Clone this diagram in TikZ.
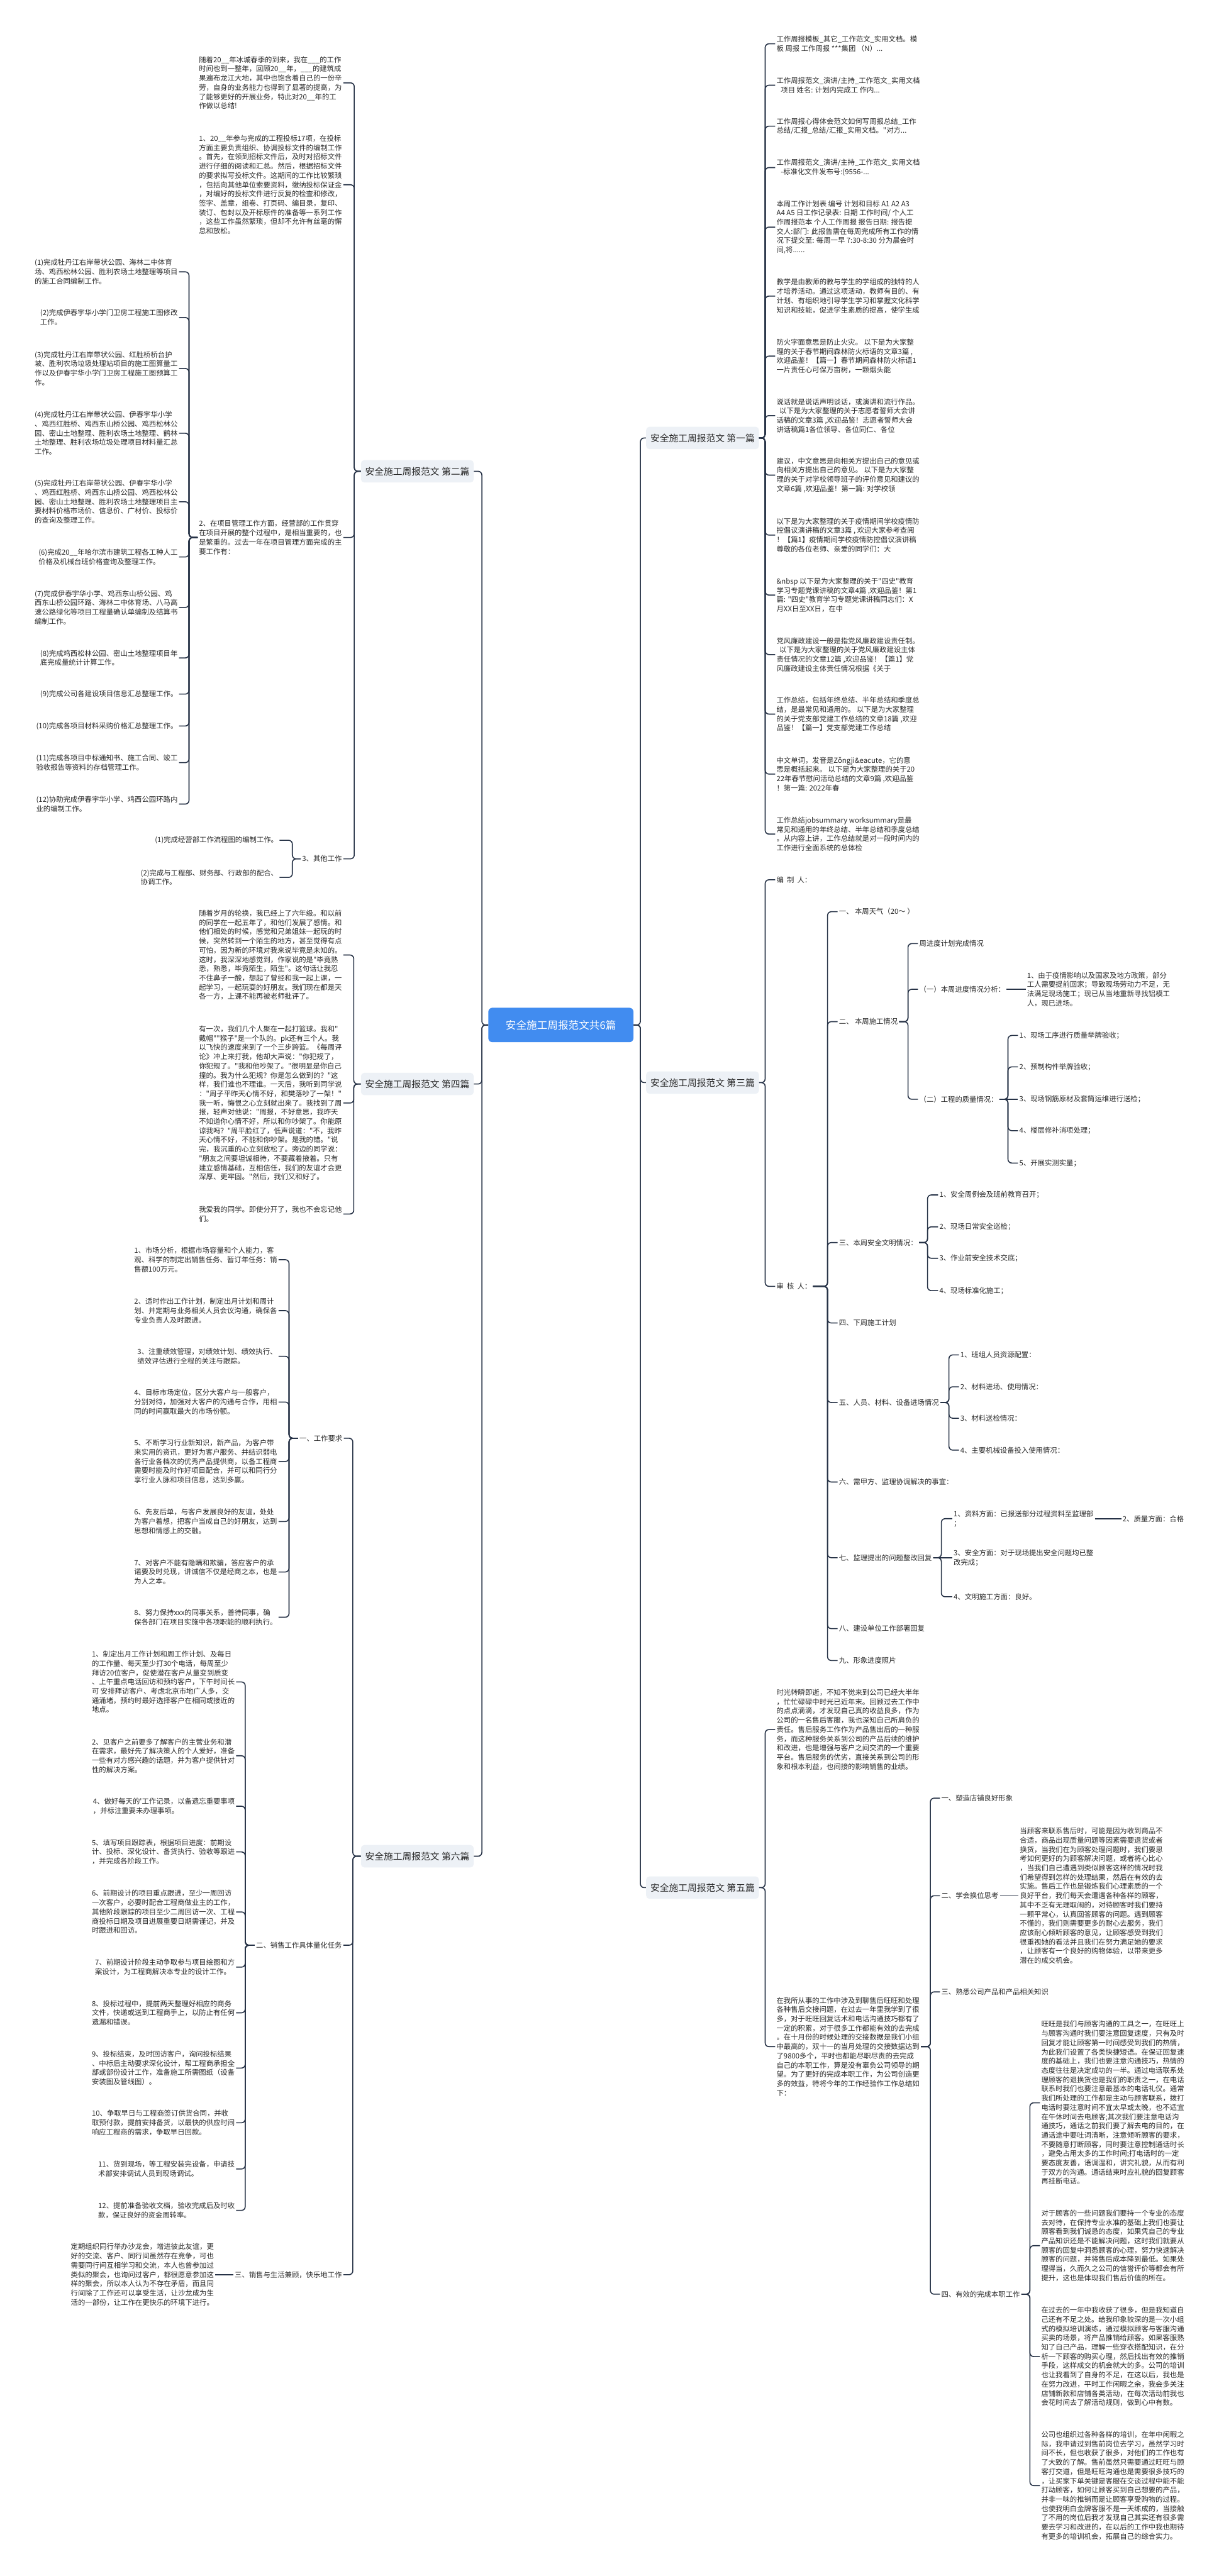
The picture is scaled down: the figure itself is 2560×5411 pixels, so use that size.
\documentclass[tikz,border=0pt]{standalone}
\usepackage{fontspec}
\setmainfont{Noto Sans CJK SC}[Ligatures=TeXOff]
\usepackage{tikz}

\definecolor{linec}{RGB}{38,50,70}
\definecolor{boxbg}{RGB}{237,241,246}
\definecolor{rootbg}{RGB}{65,140,240}
\definecolor{txt}{RGB}{40,40,40}

\begin{document}
\begin{tikzpicture}[x=0.02cm,y=-0.02cm,
  leaf/.style={inner xsep=1.5pt,inner ysep=1pt,align=left,text=txt,font=\fontsize{8.54}{11.06}\selectfont},
  pian/.style={fill=boxbg,rounded corners=4pt,minimum width=4.74cm,minimum height=0.94cm,text=txt,font=\fontsize{11.1}{13}\selectfont},
  zhuti/.style={fill=rootbg,rounded corners=5pt,minimum width=6.1cm,minimum height=1.45cm,text=white,font=\fontsize{12.5}{15}\selectfont},
  link/.style={draw=linec,line width=1.2pt,rounded corners=4.5pt}]

\fill[white] (0,0) rectangle (2560,5411);
\useasboundingbox (0,0) rectangle (2560,5411);

% centre and the six parts
\node[zhuti] (zt) at (1178,2153) {安全施工周报范文共6篇};
\node[pian] (p2) at (876.5,990) {安全施工周报范文 第二篇};
\node[pian] (p4) at (876.5,2277) {安全施工周报范文 第四篇};
\node[pian] (p6) at (876.5,3899) {安全施工周报范文 第六篇};
\node[pian] (p1) at (1475.5,920) {安全施工周报范文 第一篇};
\node[pian] (p3) at (1475.5,2274) {安全施工周报范文 第三篇};
\node[pian] (p5) at (1475.5,3965) {安全施工周报范文 第五篇};

\coordinate (jl) at (1012,2153);
\coordinate (jr) at (1345,2153);
\draw[link] (zt.west) -- (jl) |- (p2.east);
\draw[link] (zt.west) -- (jl) |- (p4.east);
\draw[link] (zt.west) -- (jl) |- (p6.east);
\draw[link] (zt.east) -- (jr) |- (p1.west);
\draw[link] (zt.east) -- (jr) |- (p3.west);
\draw[link] (zt.east) -- (jr) |- (p5.west);

% 第二篇
\node[leaf,anchor=east] (a1) at (721,174) {随着20\_\_年冰城春季的到来，我在\_\_\_的工作\\时间也到一整年，回顾20\_\_年，\_\_\_的建筑成\\果遍布龙江大地，其中也饱含着自己的一份辛\\劳，自身的业务能力也得到了显著的提高，为\\了能够更好的开展业务，特此对20\_\_年的工\\作做以总结!};
\node[leaf,anchor=east] (a2) at (721,388) {1、20\_\_年参与完成的工程投标17项，在投标\\方面主要负责组织、协调投标文件的编制工作\\。首先，在领到招标文件后，及时对招标文件\\进行仔细的阅读和汇总。然后，根据招标文件\\的要求拟写投标文件。这期间的工作比较繁琐\\，包括向其他单位索要资料，缴纳投标保证金\\，对编好的投标文件进行反复的检查和修改，\\签字、盖章，组卷、打页码、编目录，复印、\\装订、包封以及开标原件的准备等一系列工作\\，这些工作虽然繁琐，但却不允许有丝毫的懈\\怠和放松。};
\node[leaf,anchor=east] (a3) at (721,1129) {2、在项目管理工作方面，经营部的工作贯穿\\在项目开展的整个过程中，是相当重要的，也\\是繁重的。过去一年在项目管理方面完成的主\\要工作有：};
\node[leaf,anchor=east] (a4) at (721,1804) {3、其他工作};
\coordinate (j2) at (744,990);
\draw[link] (p2.west) -- (j2) |- (a1.east);
\draw[link] (p2.west) -- (j2) |- (a2.east);
\draw[link] (p2.west) -- (j2) |- (a3.east);
\draw[link] (p2.west) -- (j2) |- (a4.east);

\node[leaf,anchor=east] (b1) at (376,571) {(1)完成牡丹江右岸带状公园、海林二中体育\\场、鸡西松林公园、胜利农场土地整理等项目\\的施工合同编制工作。};
\node[leaf,anchor=east] (b2) at (376,667) {(2)完成伊春宇华小学门卫房工程施工图修改\\工作。};
\node[leaf,anchor=east] (b3) at (376,774) {(3)完成牡丹江右岸带状公园、红胜桥桥台护\\坡、胜利农场垃圾处理站项目的施工图算量工\\作以及伊春宇华小学门卫房工程施工图预算工\\作。};
\node[leaf,anchor=east] (b4) at (376,910) {(4)完成牡丹江右岸带状公园、伊春宇华小学\\、鸡西红胜桥、鸡西东山桥公园、鸡西松林公\\园、密山土地整理、胜利农场土地整理、鹤林\\土地整理、胜利农场垃圾处理项目材料量汇总\\工作。};
\node[leaf,anchor=east] (b5) at (376,1054) {(5)完成牡丹江右岸带状公园、伊春宇华小学\\、鸡西红胜桥、鸡西东山桥公园、鸡西松林公\\园、密山土地整理、胜利农场土地整理项目主\\要材料价格市场价、信息价、广材价、投标价\\的查询及整理工作。};
\node[leaf,anchor=east] (b6) at (376,1170) {(6)完成20\_\_年哈尔滨市建筑工程各工种人工\\价格及机械台班价格查询及整理工作。};
\node[leaf,anchor=east] (b7) at (376,1276) {(7)完成伊春宇华小学、鸡西东山桥公园、鸡\\西东山桥公园环路、海林二中体育场、八马高\\速公路绿化等项目工程量确认单编制及结算书\\编制工作。};
\node[leaf,anchor=east] (b8) at (376,1382) {(8)完成鸡西松林公园、密山土地整理项目年\\底完成量统计计算工作。};
\node[leaf,anchor=east] (b9) at (376,1458) {(9)完成公司各建设项目信息汇总整理工作。};
\node[leaf,anchor=east] (b10) at (376,1525) {(10)完成各项目材料采购价格汇总整理工作。};
\node[leaf,anchor=east] (b11) at (376,1602) {(11)完成各项目中标通知书、施工合同、竣工\\验收报告等资料的存档管理工作。};
\node[leaf,anchor=east] (b12) at (376,1689) {(12)协助完成伊春宇华小学、鸡西公园环路内\\业的编制工作。};
\coordinate (j2c) at (397,1129);
\draw[link] (a3.west) -- (j2c) |- (b1.east);
\draw[link] (a3.west) -- (j2c) |- (b2.east);
\draw[link] (a3.west) -- (j2c) |- (b3.east);
\draw[link] (a3.west) -- (j2c) |- (b4.east);
\draw[link] (a3.west) -- (j2c) |- (b5.east);
\draw[link] (a3.west) -- (j2c) |- (b6.east);
\draw[link] (a3.west) -- (j2c) |- (b7.east);
\draw[link] (a3.west) -- (j2c) |- (b8.east);
\draw[link] (a3.west) -- (j2c) |- (b9.east);
\draw[link] (a3.west) -- (j2c) |- (b10.east);
\draw[link] (a3.west) -- (j2c) |- (b11.east);
\draw[link] (a3.west) -- (j2c) |- (b12.east);

\node[leaf,anchor=east] (c1) at (587,1765) {(1)完成经营部工作流程图的编制工作。};
\node[leaf,anchor=east] (c2) at (587,1843) {(2)完成与工程部、财务部、行政部的配合、\\协调工作。};
\coordinate (j2d) at (614,1804);
\draw[link] (a4.west) -- (j2d) |- (c1.east);
\draw[link] (a4.west) -- (j2d) |- (c2.east);

% 第四篇
\node[leaf,anchor=east] (d1) at (721,2006) {随着岁月的轮换，我已经上了六年级。和以前\\的同学在一起五年了，和他们发展了感情。和\\他们相处的时候，感觉和兄弟姐妹一起玩的时\\候，突然转到一个陌生的地方，甚至觉得有点\\可怕，因为新的环境对我来说毕竟是未知的。\\这时，我深深地感觉到，作家说的是"毕竟熟\\悉，熟悉，毕竟陌生，陌生"。这句话让我忍\\不住鼻子一酸，想起了曾经和我一起上课，一\\起学习，一起玩耍的好朋友。我们现在都是天\\各一方，上课不能再被老师批评了。};
\node[leaf,anchor=east] (d2) at (721,2317) {有一次，我们几个人聚在一起打篮球。我和"\\戴帽""猴子"是一个队的。pk还有三个人。我\\以飞快的速度来到了一个三步跨篮。《每周评\\论》冲上来打我，他却大声说："你犯规了，\\你犯规了。"我和他吵架了。"很明显是你自己\\撞的。我为什么犯规？你是怎么做到的？"这\\样，我们谁也不理谁。一天后，我听到同学说\\："周子平昨天心情不好，和樊落吵了一架！"\\我一听，悔恨之心立刻就出来了。我找到了周\\报，轻声对他说："周报，不好意思，我昨天\\不知道你心情不好，所以和你吵架了。你能原\\谅我吗？"周平脸红了，低声说道："不，我昨\\天心情不好，不能和你吵架。是我的错。"说\\完，我沉重的心立刻放松了。旁边的同学说：\\"朋友之间要坦诚相待，不要藏着掖着。只有\\建立感情基础，互相信任，我们的友谊才会更\\深厚、更牢固。"然后，我们又和好了。};
\node[leaf,anchor=east] (d3) at (721,2550) {我爱我的同学。即使分开了，我也不会忘记他\\们。};
\coordinate (j4) at (743,2277);
\draw[link] (p4.west) -- (j4) |- (d1.east);
\draw[link] (p4.west) -- (j4) |- (d2.east);
\draw[link] (p4.west) -- (j4) |- (d3.east);

% 第六篇
\node[leaf,anchor=east] (e1) at (722,3021) {一、工作要求};
\node[leaf,anchor=east] (e2) at (721,4086) {二、销售工作具体量化任务};
\node[leaf,anchor=east] (e3) at (721,4778) {三、销售与生活兼顾，快乐地工作};
\coordinate (j6) at (741,3899);
\draw[link] (p6.west) -- (j6) |- (e1.east);
\draw[link] (p6.west) -- (j6) |- (e2.east);
\draw[link] (p6.west) -- (j6) |- (e3.east);

\node[leaf,anchor=east] (f1) at (585,2646) {1、市场分析，根据市场容量和个人能力，客\\观、科学的制定出销售任务、暂订年任务：销\\售额100万元。};
\node[leaf,anchor=east] (f2) at (585,2753) {2、适时作出工作计划，制定出月计划和周计\\划、并定期与业务相关人员会议沟通，确保各\\专业负责人及时跟进。};
\node[leaf,anchor=east] (f3) at (585,2849) {3、注重绩效管理，对绩效计划、绩效执行、\\绩效评估进行全程的关注与跟踪。};
\node[leaf,anchor=east] (f4) at (585,2945) {4、目标市场定位，区分大客户与一般客户，\\分别对待，加强对大客户的沟通与合作，用相\\同的时间赢取最大的市场份额。};
\node[leaf,anchor=east] (f5) at (585,3070) {5、不断学习行业新知识，新产品，为客户带\\来实用的资讯，更好为客户服务、并结识弱电\\各行业各档次的优秀产品提供商，以备工程商\\需要时能及时作好项目配合，并可以和同行分\\享行业人脉和项目信息，达到多赢。};
\node[leaf,anchor=east] (f6) at (585,3196) {6、先友后单，与客户发展良好的友谊，处处\\为客户着想，把客户当成自己的好朋友，达到\\思想和情感上的交融。};
\node[leaf,anchor=east] (f7) at (585,3302) {7、对客户不能有隐瞒和欺骗，答应客户的承\\诺要及时兑现，讲诚信不仅是经商之本，也是\\为人之本。};
\node[leaf,anchor=east] (f8) at (585,3397) {8、努力保持xxx的同事关系，善待同事，确\\保各部门在项目实施中各项职能的顺利执行。};
\coordinate (j6a) at (607,3021);
\draw[link] (e1.west) -- (j6a) |- (f1.east);
\draw[link] (e1.west) -- (j6a) |- (f2.east);
\draw[link] (e1.west) -- (j6a) |- (f3.east);
\draw[link] (e1.west) -- (j6a) |- (f4.east);
\draw[link] (e1.west) -- (j6a) |- (f5.east);
\draw[link] (e1.west) -- (j6a) |- (f6.east);
\draw[link] (e1.west) -- (j6a) |- (f7.east);
\draw[link] (e1.west) -- (j6a) |- (f8.east);

\node[leaf,anchor=east] (g1) at (496,3533) {1、制定出月工作计划和周工作计划、及每日\\的工作量、每天至少打30个电话，每周至少\\拜访20位客户，促使潜在客户从量变到质变\\、上午重点电话回访和预约客户，下午时间长\\可 安排拜访客户、考虑北京市地广人多，交\\通涌堵，预约时最好选择客户在相同或接近的\\地点。};
\node[leaf,anchor=east] (g2) at (496,3688) {2、见客户之前要多了解客户的主营业务和潜\\在需求，最好先了解决策人的个人爱好，准备\\一些有对方感兴趣的话题，并为客户提供针对\\性的解决方案。};
\node[leaf,anchor=east] (g3) at (496,3794) {4、做好每天的'工作记录，以备遗忘重要事项\\，并标注重要未办理事项。};
\node[leaf,anchor=east] (g4) at (496,3890) {5、填写项目跟踪表，根据项目进度：前期设\\计、投标、深化设计、备货执行、验收等跟进\\，并完成各阶段工作。};
\node[leaf,anchor=east] (g5) at (496,4016) {6、前期设计的项目重点跟进，至少一周回访\\一次客户，必要时配合工程商做业主的工作，\\其他阶段跟踪的项目至少二周回访一次、工程\\商投标日期及项目进展重要日期需谨记，并及\\时跟进和回访。};
\node[leaf,anchor=east] (g6) at (496,4132) {7、前期设计阶段主动争取参与项目绘图和方\\案设计，为工程商解决本专业的设计工作。};
\node[leaf,anchor=east] (g7) at (496,4228) {8、投标过程中，提前两天整理好相应的商务\\文件，快递或送到工程商手上，以防止有任何\\遗漏和错误。};
\node[leaf,anchor=east] (g8) at (496,4344) {9、投标结束，及时回访客户，询问投标结果\\、中标后主动要求深化设计，帮工程商承担全\\部或部份设计工作，准备施工所需图纸（设备\\安装图及管线图）。};
\node[leaf,anchor=east] (g9) at (496,4459) {10、争取早日与工程商签订供货合同，并收\\取预付款，提前安排备货，以最快的供应时间\\响应工程商的需求，争取早日回款。};
\node[leaf,anchor=east] (g10) at (496,4556) {11、货到现场，等工程安装完设备，申请技\\术部安排调试人员到现场调试。};
\node[leaf,anchor=east] (g11) at (496,4643) {12、提前准备验收文档，验收完成后及时收\\款，保证良好的资金周转率。};
\coordinate (j6b) at (515,4086);
\draw[link] (e2.west) -- (j6b) |- (g1.east);
\draw[link] (e2.west) -- (j6b) |- (g2.east);
\draw[link] (e2.west) -- (j6b) |- (g3.east);
\draw[link] (e2.west) -- (j6b) |- (g4.east);
\draw[link] (e2.west) -- (j6b) |- (g5.east);
\draw[link] (e2.west) -- (j6b) |- (g6.east);
\draw[link] (e2.west) -- (j6b) |- (g7.east);
\draw[link] (e2.west) -- (j6b) |- (g8.east);
\draw[link] (e2.west) -- (j6b) |- (g9.east);
\draw[link] (e2.west) -- (j6b) |- (g10.east);
\draw[link] (e2.west) -- (j6b) |- (g11.east);

\node[leaf,anchor=east] (h1) at (452,4778) {定期组织同行举办沙龙会，增进彼此友谊，更\\好的交流、客户、同行间虽然存在竞争，可也\\需要同行间互相学习和交流，本人也曾参加过\\类似的聚会，也询问过客户，都很愿意参加这\\样的聚会，所以本人认为不存在矛盾，而且同\\行间除了工作还可以享受生活，让沙龙成为生\\活的一部份，让工作在更快乐的环境下进行。};
\draw[link] (e3.west) -- (h1.east);

% 第一篇
\node[leaf,anchor=west] (k1) at (1628,92) {工作周报模板\_其它\_工作范文\_实用文档。模\\板 周报 工作周报 ***集团 （N）...};
\node[leaf,anchor=west] (k2) at (1628,179) {工作周报范文\_演讲/主持\_工作范文\_实用文档\\\hspace*{0.6em}项目 姓名: 计划内完成工 作内...};
\node[leaf,anchor=west] (k3) at (1628,265) {工作周报心得体会范文如何写周报总结\_工作\\总结/汇报\_总结/汇报\_实用文档。"对方...};
\node[leaf,anchor=west] (k4) at (1628,352) {工作周报范文\_演讲/主持\_工作范文\_实用文档\\\hspace*{0.6em}-标准化文件发布号:(9556-...};
\node[leaf,anchor=west] (k5) at (1628,477) {本周工作计划表 编号 计划和目标 A1 A2 A3\\A4 A5 日工作记录表: 日期 工作时间/ 个人工\\作周报范本 个人工作周报 报告日期: 报告提\\交人:部门: 此报告需在每周完成所有工作的情\\况下提交至: 每周一早 7:30-8:30 分为晨会时\\间,将......};
\node[leaf,anchor=west] (k6) at (1628,622) {教学是由教师的教与学生的学组成的独特的人\\才培养活动。通过这项活动，教师有目的、有\\计划、有组织地引导学生学习和掌握文化科学\\知识和技能，促进学生素质的提高，使学生成};
\node[leaf,anchor=west] (k7) at (1628,748) {防火字面意思是防止火灾。 以下是为大家整\\理的关于春节期间森林防火标语的文章3篇 ,\\欢迎品鉴！【篇一】春节期间森林防火标语1\\一片责任心可保万亩树，一颗烟头能};
\node[leaf,anchor=west] (k8) at (1628,873) {说话就是说话声明谈话，或演讲和流行作品。\\\hspace*{0.4em}以下是为大家整理的关于志愿者誓师大会讲\\话稿的文章3篇 ,欢迎品鉴！志愿者誓师大会\\讲话稿篇1各位领导、各位同仁、各位};
\node[leaf,anchor=west] (k9) at (1628,998) {建议，中文意思是向相关方提出自己的意见或\\向相关方提出自己的意见。 以下是为大家整\\理的关于对学校领导班子的评价意见和建议的\\文章6篇 ,欢迎品鉴！第一篇: 对学校领};
\node[leaf,anchor=west] (k10) at (1628,1124) {以下是为大家整理的关于疫情期间学校疫情防\\控倡议演讲稿的文章3篇 , 欢迎大家参考查阅\\！【篇1】疫情期间学校疫情防控倡议演讲稿\\尊敬的各位老师、亲爱的同学们：大};
\node[leaf,anchor=west] (k11) at (1628,1250) {\&nbsp 以下是为大家整理的关于"四史"教育\\学习专题党课讲稿的文章4篇 ,欢迎品鉴！第1\\篇: "四史"教育学习专题党课讲稿同志们：X\\月XX日至XX日，在中};
\node[leaf,anchor=west] (k12) at (1628,1375) {党风廉政建设一般是指党风廉政建设责任制。\\\hspace*{0.4em}以下是为大家整理的关于党风廉政建设主体\\责任情况的文章12篇 ,欢迎品鉴！【篇1】党\\风廉政建设主体责任情况根据《关于};
\node[leaf,anchor=west] (k13) at (1628,1500) {工作总结，包括年终总结、半年总结和季度总\\结，是最常见和通用的。 以下是为大家整理\\的关于党支部党建工作总结的文章18篇 ,欢迎\\品鉴！【篇一】党支部党建工作总结};
\node[leaf,anchor=west] (k14) at (1628,1626) {中文单词，发音是Zǒngji\&eacute，它的意\\思是概括起来。 以下是为大家整理的关于20\\22年春节慰问活动总结的文章9篇 ,欢迎品鉴\\！第一篇: 2022年春};
\node[leaf,anchor=west] (k15) at (1628,1752) {工作总结jobsummary worksummary是最\\常见和通用的年终总结、半年总结和季度总结\\。从内容上讲，工作总结就是对一段时间内的\\工作进行全面系统的总体检};
\coordinate (j1) at (1607,920);
\draw[link] (p1.east) -- (j1) |- (k1.west);
\draw[link] (p1.east) -- (j1) |- (k2.west);
\draw[link] (p1.east) -- (j1) |- (k3.west);
\draw[link] (p1.east) -- (j1) |- (k4.west);
\draw[link] (p1.east) -- (j1) |- (k5.west);
\draw[link] (p1.east) -- (j1) |- (k6.west);
\draw[link] (p1.east) -- (j1) |- (k7.west);
\draw[link] (p1.east) -- (j1) |- (k8.west);
\draw[link] (p1.east) -- (j1) |- (k9.west);
\draw[link] (p1.east) -- (j1) |- (k10.west);
\draw[link] (p1.east) -- (j1) |- (k11.west);
\draw[link] (p1.east) -- (j1) |- (k12.west);
\draw[link] (p1.east) -- (j1) |- (k13.west);
\draw[link] (p1.east) -- (j1) |- (k14.west);
\draw[link] (p1.east) -- (j1) |- (k15.west);

% 第三篇
\node[leaf,anchor=west] (m1) at (1628,1848) {编\ \ 制\ \ 人：};
\node[leaf,anchor=west] (m2) at (1628,2702) {审\ \ 核\ \ 人：};
\coordinate (j3) at (1607,2274);
\draw[link] (p3.east) -- (j3) |- (m1.west);
\draw[link] (p3.east) -- (j3) |- (m2.west);

\node[leaf,anchor=west] (n1) at (1759,1915) {一、 本周天气（20～ ）};
\node[leaf,anchor=west] (n2) at (1759,2146) {二、 本周施工情况};
\node[leaf,anchor=west] (n3) at (1759,2610) {三、本周安全文明情况：};
\node[leaf,anchor=west] (n4) at (1759,2779) {四、下周施工计划};
\node[leaf,anchor=west] (n5) at (1759,2946) {五、人员、材料、设备进场情况};
\node[leaf,anchor=west] (n6) at (1759,3113) {六、需甲方、监理协调解决的事宜：};
\node[leaf,anchor=west] (n7) at (1759,3272) {七、监理提出的问题整改回复};
\node[leaf,anchor=west] (n8) at (1759,3421) {八、建设单位工作部署回复};
\node[leaf,anchor=west] (n9) at (1759,3488) {九、形象进度照片};
\coordinate (j3a) at (1738,2702);
\draw[link] (m2.east) -- (j3a) |- (n1.west);
\draw[link] (m2.east) -- (j3a) |- (n2.west);
\draw[link] (m2.east) -- (j3a) |- (n3.west);
\draw[link] (m2.east) -- (j3a) |- (n4.west);
\draw[link] (m2.east) -- (j3a) |- (n5.west);
\draw[link] (m2.east) -- (j3a) |- (n6.west);
\draw[link] (m2.east) -- (j3a) |- (n7.west);
\draw[link] (m2.east) -- (j3a) |- (n8.west);
\draw[link] (m2.east) -- (j3a) |- (n9.west);

\node[leaf,anchor=west] (o1) at (1928,1982) {周进度计划完成情况};
\node[leaf,anchor=west] (o2) at (1928,2078) {（一）本周进度情况分析：};
\node[leaf,anchor=west] (o3) at (1928,2309) {（二）工程的质量情况：};
\coordinate (j3b) at (1907,2146);
\draw[link] (n2.east) -- (j3b) |- (o1.west);
\draw[link] (n2.east) -- (j3b) |- (o2.west);
\draw[link] (n2.east) -- (j3b) |- (o3.west);

\node[leaf,anchor=west] (q1) at (2154,2078) {1、由于疫情影响以及国家及地方政策，部分\\工人需要提前回家；导致现场劳动力不足，无\\法满足现场施工；现已从当地重新寻找铝模工\\人，现已进场。};
\draw[link] (o2.east) -- (q1.west);

\node[leaf,anchor=west] (r1) at (2138,2175) {1、现场工序进行质量举牌验收；};
\node[leaf,anchor=west] (r2) at (2138,2241) {2、预制构件举牌验收；};
\node[leaf,anchor=west] (r3) at (2138,2309) {3、现场钢筋原材及套筒运维进行送检；};
\node[leaf,anchor=west] (r4) at (2138,2375) {4、楼层修补消项处理；};
\node[leaf,anchor=west] (r5) at (2138,2443) {5、开展实测实量；};
\coordinate (j3c) at (2117,2309);
\draw[link] (o3.east) -- (j3c) |- (r1.west);
\draw[link] (o3.east) -- (j3c) |- (r2.west);
\draw[link] (o3.east) -- (r3.west);
\draw[link] (o3.east) -- (j3c) |- (r4.west);
\draw[link] (o3.east) -- (j3c) |- (r5.west);

\node[leaf,anchor=west] (s1) at (1970,2510) {1、安全周例会及班前教育召开；};
\node[leaf,anchor=west] (s2) at (1970,2577) {2、现场日常安全巡检；};
\node[leaf,anchor=west] (s3) at (1970,2643) {3、作业前安全技术交底；};
\node[leaf,anchor=west] (s4) at (1970,2711) {4、现场标准化施工；};
\coordinate (j3d) at (1948,2610);
\draw[link] (n3.east) -- (j3d) |- (s1.west);
\draw[link] (n3.east) -- (j3d) |- (s2.west);
\draw[link] (n3.east) -- (j3d) |- (s3.west);
\draw[link] (n3.east) -- (j3d) |- (s4.west);

\node[leaf,anchor=west] (t1) at (2014,2846) {1、班组人员资源配置：};
\node[leaf,anchor=west] (t2) at (2014,2913) {2、材料进场、使用情况：};
\node[leaf,anchor=west] (t3) at (2014,2979) {3、材料送检情况：};
\node[leaf,anchor=west] (t4) at (2014,3046) {4、主要机械设备投入使用情况：};
\coordinate (j3e) at (1993,2946);
\draw[link] (n5.east) -- (j3e) |- (t1.west);
\draw[link] (n5.east) -- (j3e) |- (t2.west);
\draw[link] (n5.east) -- (j3e) |- (t3.west);
\draw[link] (n5.east) -- (j3e) |- (t4.west);

\node[leaf,anchor=west] (u1) at (2000,3190) {1、资料方面：已报送部分过程资料至监理部\\；};
\node[leaf,anchor=west] (u2) at (2000,3272) {3、安全方面：对于现场提出安全问题均已整\\改完成；};
\node[leaf,anchor=west] (u3) at (2000,3354) {4、文明施工方面：良好。};
\coordinate (j3f) at (1977,3272);
\draw[link] (n7.east) -- (j3f) |- (u1.west);
\draw[link] (n7.east) -- (u2.west);
\draw[link] (n7.east) -- (j3f) |- (u3.west);

\node[leaf,anchor=west] (v1) at (2355,3190) {2、质量方面：合格};
\draw[link] (u1.east) -- (v1.west);

% 第五篇
\node[leaf,anchor=west] (w1) at (1628,3633) {时光转瞬即逝，不知不觉来到公司已经大半年\\，忙忙碌碌中时光已近年末。回顾过去工作中\\的点点滴滴，才发现自己真的收益良多，作为\\公司的一名售后客服，我也深知自己所肩负的\\责任。售后服务工作作为产品售出后的一种服\\务，而这种服务关系到公司的产品后续的维护\\和改进，也是增强与客户之间交流的一个重要\\平台。售后服务的优劣，直接关系到公司的形\\象和根本利益，也间接的影响销售的业绩。};
\node[leaf,anchor=west] (w2) at (1628,4299) {在我所从事的工作中涉及到聊售后旺旺和处理\\各种售后交接问题，在过去一年里我学到了很\\多，对于旺旺回复话术和电话沟通技巧都有了\\一定的积累，对于很多工作都能有效的去完成\\。在十月份的时候处理的交接数据是我们小组\\中最高的，双十一的当月处理的交接数据达到\\了9800多个，平时也都能尽职尽责的去完成\\自己的本职工作，算是没有辜负公司领导的期\\望。为了更好的完成本职工作，为公司创造更\\多的效益，特将今年的工作经验作工作总结如\\下：};
\coordinate (j5) at (1607,3965);
\draw[link] (p5.east) -- (j5) |- (w1.west);
\draw[link] (p5.east) -- (j5) |- (w2.west);

\node[leaf,anchor=west] (x1) at (1974,3777) {一、塑造店铺良好形象};
\node[leaf,anchor=west] (x2) at (1974,3982) {二、学会换位思考};
\node[leaf,anchor=west] (x3) at (1974,4184) {三、熟悉公司产品和产品相关知识};
\node[leaf,anchor=west] (x4) at (1974,4819) {四、有效的完成本职工作};
\coordinate (j5a) at (1954,4299);
\draw[link] (w2.east) -- (j5a) |- (x1.west);
\draw[link] (w2.east) -- (j5a) |- (x2.west);
\draw[link] (w2.east) -- (j5a) |- (x3.west);
\draw[link] (w2.east) -- (j5a) |- (x4.west);

\node[leaf,anchor=west] (y1) at (2139,3982) {当顾客来联系售后时，可能是因为收到商品不\\合适，商品出现质量问题等因素需要退货或者\\换货，当我们在为顾客处理问题时，我们要思\\考如何更好的为顾客解决问题，或者将心比心\\，当我们自己遭遇到类似顾客这样的情况时我\\们希望得到怎样的处理结果，然后在有效的去\\实施。售后工作也是锻炼我们心理素质的一个\\良好平台，我们每天会遭遇各种各样的顾客，\\其中不乏有无理取闹的，对待顾客时我们要持\\一颗平常心，认真回答顾客的问题。遇到顾客\\不懂的，我们则需要更多的耐心去服务，我们\\应该耐心倾听顾客的意见，让顾客感受到我们\\很重视她的看法并且我们在努力满足她的要求\\，让顾客有一个良好的购物体验，以带来更多\\潜在的成交机会。};
\draw[link] (x2.east) -- (y1.west);

\node[leaf,anchor=west] (z1) at (2184,4417) {旺旺是我们与顾客沟通的工具之一，在旺旺上\\与顾客沟通时我们要注意回复速度，只有及时\\回复才能让顾客第一时间感受到我们的热情，\\为此我们设置了各类快捷短语。在保证回复速\\度的基础上，我们也要注意沟通技巧，热情的\\态度往往是决定成功的一半。通过电话联系处\\理顾客的退换货也是我们的职责之一，在电话\\联系时我们也要注意最基本的电话礼仪。通常\\我们所处理的工作都是主动与顾客联系，拨打\\电话时要注意时间不宜太早或太晚，也不适宜\\在午休时间去电顾客;其次我们要注意电话沟\\通技巧，通话之前我们要了解去电的目的，在\\通话途中要吐词清晰，注意倾听顾客的要求，\\不要随意打断顾客，同时要注意控制通话时长\\，避免占用太多的工作时间;打电话时的一定\\要态度友善，语调温和，讲究礼貌，从而有利\\于双方的沟通。通话结束时应礼貌的回复顾客\\再挂断电话。};
\node[leaf,anchor=west] (z2) at (2184,4717) {对于顾客的一些问题我们要持一个专业的态度\\去对待，在保持专业水准的基础上我们也要让\\顾客看到我们诚恳的态度，如果凭自己的专业\\产品知识还是不能解决问题，这时我们就要从\\顾客的回复中洞悉顾客的心理，努力快速解决\\顾客的问题，并将售后成本降到最低。如果处\\理得当，久而久之公司的信誉评价等都会有所\\提升，这也是体现我们售后价值的所在。};
\node[leaf,anchor=west] (z3) at (2184,4950) {在过去的一年中我收获了很多，但是我知道自\\己还有不足之处。给我印象较深的是一次小组\\式的模拟培训演练，通过模拟顾客与客服沟通\\买卖的场景，将产品推销给顾客。如果客服熟\\知了自己产品，理解一些穿衣搭配知识，在分\\析一下顾客的购买心理，然后找出有效的推销\\手段，这样成交的机会就大的多。公司的培训\\也让我看到了自身的不足，在这以后，我也是\\在努力改进，平时工作闲暇之余，我会多关注\\店铺新款和店铺各类活动，在每次活动前我也\\会花时间去了解活动规则，做到心中有数。};
\node[leaf,anchor=west] (z4) at (2184,5221) {公司也组织过各种各样的培训，在年中闲暇之\\际，我申请过到售前岗位去学习，虽然学习时\\间不长，但也收获了很多，对他们的工作也有\\了大致的了解。售前虽然只需要通过旺旺与顾\\客打交道，但是旺旺沟通也是需要很多技巧的\\，让买家下单关键是客服在交谈过程中能不能\\打动顾客，如何让顾客买到自己想要的产品，\\并非一味的推销而是让顾客享受购物的过程。\\也使我明白金牌客服不是一天练成的，当接触\\了不用的岗位后我才发现自己其实还有很多需\\要去学习和改进的，在以后的工作中我也期待\\有更多的培训机会，拓展自己的综合实力。};
\coordinate (j5b) at (2163,4819);
\draw[link] (x4.east) -- (j5b) |- (z1.west);
\draw[link] (x4.east) -- (j5b) |- (z2.west);
\draw[link] (x4.east) -- (j5b) |- (z3.west);
\draw[link] (x4.east) -- (j5b) |- (z4.west);

\end{tikzpicture}
\end{document}
